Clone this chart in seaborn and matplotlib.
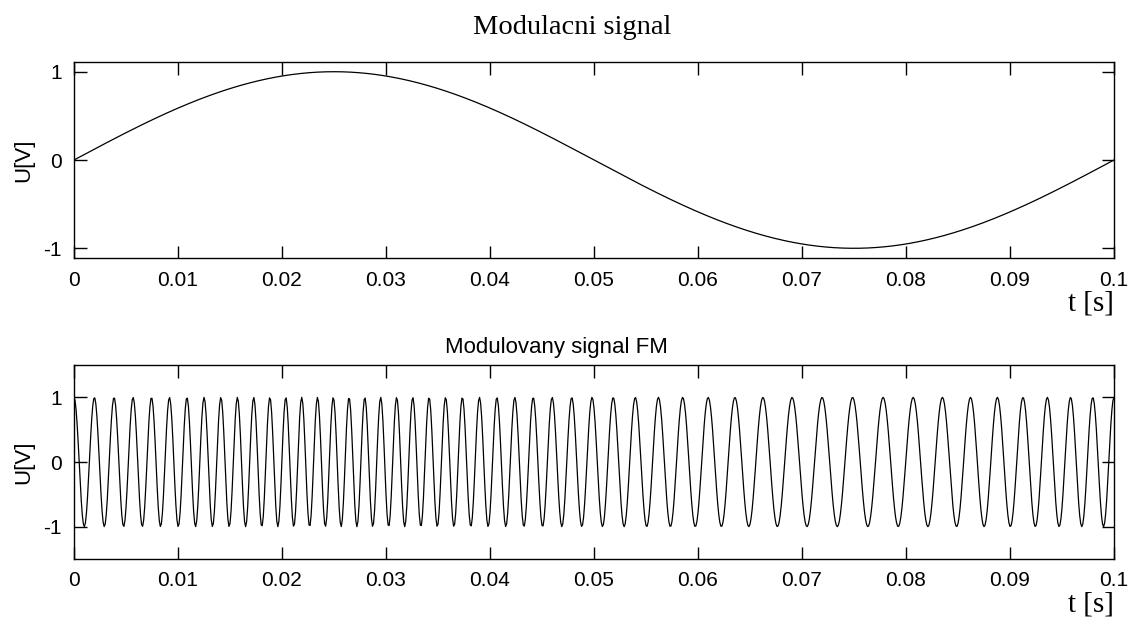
import numpy as np
import pandas as pd
import matplotlib
matplotlib.use("Agg")
import matplotlib.pyplot as plt
import seaborn as sns

# --- signal parameters ---
mod_freq = 10.0        # Hz, one period of the modulating sine over 0.1 s
carrier_freq = 500.0   # Hz, 50 carrier cycles counted in 0.1 s
freq_dev = 160.0       # Hz, peak frequency deviation (~660 Hz max, ~345 Hz min)
sample_rate = 10000.0  # Hz
t_end = 0.1

x_ticks = [0, 0.01, 0.02, 0.03, 0.04, 0.05, 0.06, 0.07, 0.08, 0.09, 0.1]
x_tick_labels = ["0", "0.01", "0.02", "0.03", "0.04", "0.05", "0.06", "0.07", "0.08", "0.09", "0.1"]
y_ticks = [-1, 0, 1]
y_tick_labels = ["-1", "0", "1"]

titles = ["Modulacni signal", "Modulovany signal FM"]
y_label = "U[V]"
x_label = "t [s]"

# --- build the signals ---
t = np.arange(0, t_end + 0.5 / sample_rate, 1 / sample_rate)
mod = np.sin(2 * np.pi * mod_freq * t)
beta = freq_dev / mod_freq
fm = np.cos(2 * np.pi * carrier_freq * t + beta * (1 - np.cos(2 * np.pi * mod_freq * t)))
df = pd.DataFrame({"t": t, "mod": mod, "fm": fm})

sns.set_theme(style="ticks")
plt.rcParams["font.family"] = ["Liberation Sans", "DejaVu Sans"]
plt.rcParams["axes.linewidth"] = 1.0

W, H = 1131, 623
fig = plt.figure(figsize=(W / 100, H / 100), dpi=100)
ax1 = fig.add_axes([74 / W, 1 - 258 / H, 1040 / W, 196 / H])
ax2 = fig.add_axes([74 / W, 1 - 559 / H, 1040 / W, 194 / H])

sns.lineplot(data=df, x="t", y="mod", ax=ax1, color="black", linewidth=0.9, estimator=None)
sns.lineplot(data=df, x="t", y="fm", ax=ax2, color="black", linewidth=0.9, estimator=None)

ylims = [(-1.11, 1.11), (-1.5, 1.5)]
xlabel_y = [-0.23, -0.237]
for ax, yl, xy in zip([ax1, ax2], ylims, xlabel_y):
    ax.set_xlim(0, t_end)
    ax.set_ylim(*yl)
    ax.set_xticks(x_ticks)
    ax.set_xticklabels(x_tick_labels)
    ax.set_yticks(y_ticks)
    ax.set_yticklabels(y_tick_labels)
    ax.tick_params(direction="in", length=9, width=1, top=True, right=True,
                   labelsize=15, colors="black")
    ax.tick_params(axis="x", pad=9)
    ax.tick_params(axis="y", pad=9)
    for s in ax.spines.values():
        s.set_visible(True)
        s.set_color("black")
    ax.set_xlabel("")
    ax.set_ylabel(y_label, fontsize=16, color="black")
    ax.yaxis.set_label_coords(-40 / 1040, 0.5)
    ax.text(1.0, xy, x_label, transform=ax.transAxes, ha="right", va="center",
            fontsize=21, family="Liberation Serif", color="black")

fig.text(572 / W, 1 - 28 / H, titles[0], ha="center", va="center",
         fontsize=20.5, family="Liberation Serif", color="black")
fig.text(556 / W, 1 - 348 / H, titles[1], ha="center", va="center",
         fontsize=16, color="black")

fig.savefig("out.png", dpi=100, facecolor="white")
